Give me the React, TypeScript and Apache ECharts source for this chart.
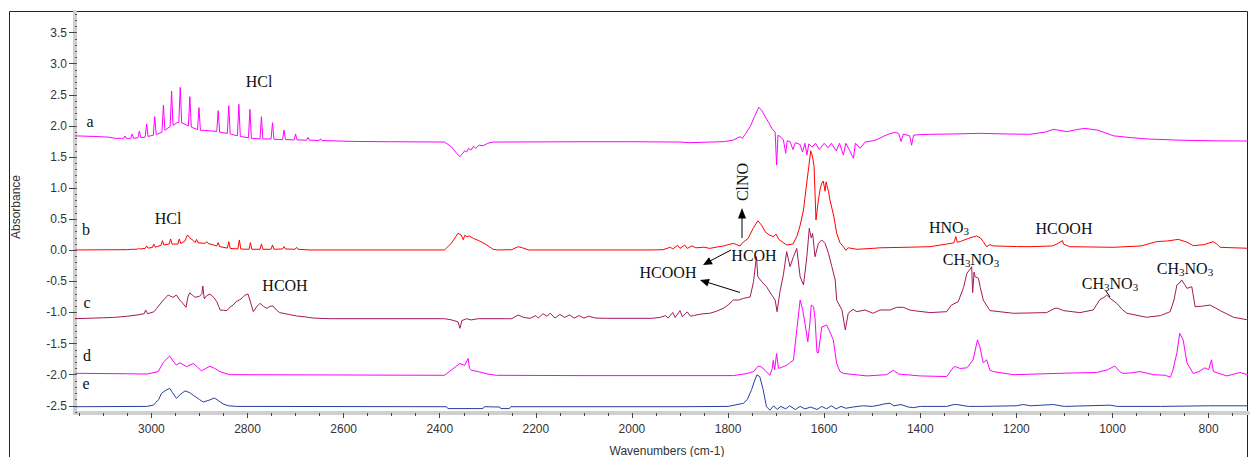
import React, { useEffect, useRef } from 'react';
import * as echarts from 'echarts';

type P = [number, number];

// trace a (top, magenta)
const traceA: P[] = [
  [3159, 1.84], [3120, 1.83], [3090, 1.82], [3075, 1.8], [3062, 1.8],
  [3058, 1.8], [3055, 1.838], [3052, 1.8],
  [3043, 1.8], [3040, 1.87], [3037, 1.8],
  [3028, 1.81], [3025, 1.918], [3022, 1.81],
  [3013, 1.82], [3010, 2.03], [3007, 1.83],
  [2996, 1.85], [2993, 2.148], [2990, 1.86],
  [2978, 1.9], [2975, 2.336], [2972, 1.93],
  [2961, 1.99], [2958, 2.561], [2955, 2.01],
  [2947, 2.05], [2943, 2.058], [2940, 2.62], [2937, 2.05],
  [2923, 2.0], [2920, 2.47], [2917, 1.98],
  [2904, 1.94], [2901, 2.293], [2898, 1.93],
  [2882, 1.924],
  [2864, 1.91], [2861, 2.245], [2858, 1.9],
  [2842, 1.88], [2839, 2.325], [2836, 1.87],
  [2821, 1.84], [2818, 2.347], [2815, 1.83],
  [2798, 1.81], [2795, 2.267], [2792, 1.8],
  [2774, 1.79], [2771, 2.148], [2768, 1.79],
  [2751, 1.79], [2748, 2.052], [2745, 1.785],
  [2727, 1.78], [2724, 1.934], [2721, 1.78],
  [2703, 1.775], [2700, 1.87], [2697, 1.775],
  [2677, 1.77], [2674, 1.816], [2671, 1.77],
  [2651, 1.765], [2648, 1.794], [2645, 1.765],
  [2580, 1.75], [2500, 1.745], [2390, 1.74], [2375, 1.66], [2365, 1.56],
  [2358, 1.505], [2352, 1.56], [2348, 1.6], [2344, 1.58], [2340, 1.64],
  [2335, 1.61], [2330, 1.67], [2325, 1.64], [2318, 1.69], [2310, 1.68],
  [2300, 1.72], [2289, 1.74], [2100, 1.745], [2000, 1.745], [1900, 1.74],
  [1880, 1.73], [1810, 1.746], [1790, 1.77], [1775, 1.826], [1770, 1.8],
  [1765, 1.86], [1754, 1.987], [1745, 2.15], [1736, 2.3], [1730, 2.25],
  [1723, 2.15], [1715, 2.05], [1709, 1.96], [1702, 1.9], [1699, 1.37],
  [1696, 1.85], [1692, 1.83], [1685, 1.78], [1680, 1.56], [1677, 1.76],
  [1671, 1.746], [1665, 1.62], [1660, 1.73], [1650, 1.7], [1645, 1.58],
  [1640, 1.72], [1636, 1.53], [1632, 1.71], [1625, 1.66], [1618, 1.72],
  [1610, 1.62], [1600, 1.72], [1592, 1.65], [1585, 1.72], [1575, 1.6],
  [1568, 1.72], [1560, 1.53], [1555, 1.72], [1548, 1.62], [1539, 1.48],
  [1535, 1.72], [1525, 1.64], [1515, 1.74], [1500, 1.76], [1490, 1.78],
  [1477, 1.83], [1465, 1.87], [1453, 1.897], [1445, 1.88], [1440, 1.75],
  [1435, 1.87], [1422, 1.84], [1418, 1.69], [1414, 1.85], [1400, 1.86],
  [1380, 1.865], [1330, 1.87], [1276, 1.88], [1220, 1.87], [1172, 1.865],
  [1140, 1.9], [1123, 1.945], [1095, 1.907], [1075, 1.94], [1057, 1.96],
  [1030, 1.93], [998, 1.84], [960, 1.81], [929, 1.79], [860, 1.77],
  [790, 1.76], [718, 1.757],
];

// trace b (red)
const traceB: P[] = [
  [3159, 0.005], [3050, 0.01], [3040, 0.016],
  [3030, 0.016], [3027, 0.032], [3024, 0.02],
  [3013, 0.03], [3010, 0.069], [3007, 0.035],
  [2998, 0.045], [2995, 0.1], [2992, 0.05],
  [2980, 0.08], [2977, 0.155], [2974, 0.085],
  [2963, 0.1], [2960, 0.182], [2957, 0.1],
  [2945, 0.1], [2942, 0.182], [2939, 0.11],
  [2930, 0.15], [2925, 0.246], [2920, 0.2], [2912, 0.15],
  [2909, 0.125], [2906, 0.176], [2903, 0.12],
  [2888, 0.112], [2885, 0.139], [2882, 0.11],
  [2864, 0.07], [2861, 0.123], [2858, 0.06],
  [2842, 0.035], [2839, 0.139], [2836, 0.03],
  [2820, 0.021], [2817, 0.166], [2814, 0.02],
  [2797, 0.016], [2794, 0.123], [2791, 0.016],
  [2774, 0.016], [2771, 0.1], [2768, 0.016],
  [2751, 0.016], [2748, 0.085], [2745, 0.016],
  [2727, 0.021], [2724, 0.059], [2721, 0.021],
  [2701, 0.016], [2698, 0.048], [2695, 0.016],
  [2670, 0.005], [2390, 0.005], [2375, 0.12], [2362, 0.273], [2356, 0.25],
  [2351, 0.17], [2348, 0.24], [2343, 0.22], [2338, 0.23], [2330, 0.19],
  [2320, 0.16], [2310, 0.12], [2302, 0.085], [2289, 0.016], [2280, 0.005],
  [2250, 0.01], [2237, 0.058], [2228, 0.04], [2215, 0.005], [1960, 0.005],
  [1935, 0.01], [1920, 0.05], [1915, 0.02], [1905, 0.08], [1900, 0.03],
  [1890, 0.085], [1885, 0.03], [1875, 0.07], [1867, 0.04], [1850, 0.05],
  [1838, 0.03], [1825, 0.05], [1810, 0.069], [1800, 0.09], [1789, 0.112],
  [1782, 0.09], [1775, 0.069], [1770, 0.12], [1758, 0.193], [1748, 0.35],
  [1738, 0.476], [1730, 0.4], [1723, 0.3], [1715, 0.25], [1706, 0.219],
  [1700, 0.26], [1695, 0.18], [1688, 0.14], [1678, 0.085], [1665, 0.1],
  [1657, 0.22], [1650, 0.4], [1643, 0.648], [1636, 1.1], [1632, 1.344],
  [1628, 1.6], [1624, 1.5], [1621, 1.344], [1617, 0.487], [1612, 0.81],
  [1608, 1.0], [1605, 1.077], [1602, 1.114], [1598, 0.95], [1596, 1.1],
  [1594, 1.034], [1591, 0.95], [1588, 0.81], [1580, 0.55], [1574, 0.273],
  [1567, 0.12], [1560, 0.058], [1555, 0.0], [1550, 0.04], [1532, 0.016],
  [1500, 0.03], [1484, 0.04], [1420, 0.05], [1380, 0.058], [1345, 0.1],
  [1330, 0.12], [1326, 0.22], [1323, 0.13], [1317, 0.14], [1300, 0.19],
  [1283, 0.23], [1275, 0.2], [1269, 0.14], [1262, 0.058], [1255, 0.09],
  [1248, 0.07], [1200, 0.06], [1172, 0.058], [1125, 0.07], [1116, 0.1],
  [1104, 0.155], [1102, 0.1], [1089, 0.058], [998, 0.048], [940, 0.07],
  [908, 0.14], [885, 0.15], [863, 0.176], [845, 0.13], [832, 0.075],
  [810, 0.09], [790, 0.14], [783, 0.1], [776, 0.048], [718, 0.032],
];

// trace c (dark magenta)
const traceC: P[] = [
  [3159, -1.1], [3120, -1.09], [3100, -1.085], [3079, -1.08], [3050, -1.06],
  [3030, -1.04], [3015, -1.02], [3012, -0.96], [3008, -1.02], [2995, -0.99],
  [2989, -0.933], [2975, -0.8], [2965, -0.719], [2960, -0.74], [2955, -0.756],
  [2948, -0.72], [2941, -0.8], [2935, -0.85], [2928, -0.917], [2924, -0.75],
  [2920, -0.682], [2915, -0.72], [2909, -0.756], [2900, -0.74], [2895, -0.7],
  [2893, -0.574], [2890, -0.78], [2885, -0.73], [2878, -0.703], [2870, -0.76],
  [2864, -0.826], [2860, -0.9], [2857, -0.96], [2850, -0.965], [2843, -0.97],
  [2836, -0.91], [2830, -0.88], [2823, -0.82], [2817, -0.8], [2810, -0.76],
  [2805, -0.72], [2799, -0.703], [2795, -0.8], [2788, -0.986], [2780, -0.9],
  [2774, -0.853], [2767, -0.9], [2760, -0.933], [2753, -0.9], [2747, -0.895],
  [2740, -0.96], [2733, -1.002], [2715, -1.03], [2698, -1.056], [2680, -1.07],
  [2663, -1.09], [2628, -1.1], [2390, -1.1], [2375, -1.12], [2362, -1.15],
  [2358, -1.254], [2354, -1.13], [2344, -1.1], [2335, -1.12], [2320, -1.1],
  [2250, -1.1], [2237, -1.04], [2225, -1.08], [2212, -1.094], [2200, -1.05],
  [2195, -1.09], [2185, -1.02], [2177, -1.06], [2170, -1.013], [2160, -1.09],
  [2150, -1.03], [2140, -1.08], [2130, -1.04], [2120, -1.09], [2110, -1.05],
  [2100, -1.09], [2090, -1.06], [2075, -1.09], [2053, -1.094], [1960, -1.094],
  [1942, -1.08], [1930, -1.05], [1925, -1.09], [1915, -1.0], [1910, -1.08],
  [1900, -0.97], [1895, -1.07], [1885, -0.99], [1878, -1.06], [1872, -1.05],
  [1860, -1.03], [1850, -1.02], [1838, -1.013], [1824, -0.98], [1810, -0.933],
  [1800, -0.88], [1789, -0.8], [1778, -0.8], [1768, -0.773], [1760, -0.76],
  [1754, -0.75], [1747, -0.505], [1741, -0.103], [1738, -0.424], [1730, -0.505],
  [1720, -0.585], [1709, -0.72], [1702, -0.8], [1698, -0.987], [1692, -0.665],
  [1685, -0.4], [1678, -0.022], [1671, -0.263], [1664, -0.103], [1657, 0.03],
  [1650, -0.424], [1643, -0.558], [1636, -0.103], [1631, 0.353], [1627, 0.2],
  [1624, 0.27], [1619, -0.103], [1612, 0.112], [1605, 0.166], [1598, 0.112],
  [1591, -0.05], [1584, -0.263], [1577, -0.477], [1574, -0.8], [1563, -0.96],
  [1556, -1.28], [1550, -1.013], [1540, -0.95], [1532, -0.987], [1515, -0.96],
  [1498, -1.013], [1484, -0.96], [1463, -0.96], [1449, -0.917], [1435, -0.917],
  [1422, -0.96], [1414, -0.97], [1380, -1.002], [1345, -0.987], [1335, -0.88],
  [1321, -0.826], [1310, -0.6], [1303, -0.37], [1296, -0.3], [1293, -0.263],
  [1291, -0.68], [1288, -0.35], [1286, -0.424], [1279, -0.451], [1275, -0.6],
  [1269, -0.8], [1255, -0.97], [1206, -1.013], [1137, -1.002], [1120, -0.933],
  [1115, -0.93], [1102, -0.97], [1068, -1.002], [1040, -0.96], [1026, -0.79],
  [1018, -0.76], [1012, -0.72], [1005, -0.773], [991, -0.853], [980, -0.95],
  [970, -1.013], [929, -1.077], [900, -1.05], [880, -0.987], [872, -0.8],
  [866, -0.558], [860, -0.52], [856, -0.477], [850, -0.55], [845, -0.612],
  [835, -0.585], [828, -0.907], [815, -0.9], [797, -0.88], [785, -0.93],
  [776, -0.97], [748, -1.077], [718, -1.12],
];

// trace d (magenta)
const traceD: P[] = [
  [3159, -1.978], [3050, -1.985], [3010, -1.99], [2986, -1.952], [2975, -1.8],
  [2962, -1.7], [2955, -1.78], [2948, -1.845], [2941, -1.81], [2934, -1.84],
  [2927, -1.87], [2913, -1.82], [2905, -1.87], [2896, -1.94], [2887, -1.9],
  [2878, -1.865], [2868, -1.9], [2857, -1.952], [2837, -2.0], [2600, -2.005],
  [2390, -2.01], [2375, -1.92], [2358, -1.82], [2348, -1.85], [2341, -1.74],
  [2338, -1.9], [2334, -1.93], [2320, -1.95], [2300, -1.99], [2282, -2.01],
  [2100, -2.015], [1900, -2.015], [1789, -2.015], [1760, -1.98], [1747, -1.95],
  [1737, -1.86], [1730, -1.88], [1723, -1.93], [1713, -2.01], [1708, -1.9],
  [1706, -1.77], [1703, -1.92], [1699, -1.66], [1695, -1.9], [1688, -1.88],
  [1678, -1.85], [1670, -1.8], [1664, -1.77], [1657, -1.28], [1650, -0.8],
  [1645, -0.95], [1641, -1.12], [1634, -1.47], [1630, -1.2], [1627, -0.88],
  [1622, -0.91], [1619, -1.1], [1615, -1.64], [1612, -1.65], [1605, -1.23],
  [1600, -1.22], [1595, -1.2], [1590, -1.28], [1581, -1.44], [1574, -1.82],
  [1567, -1.95], [1560, -1.98], [1511, -2.02], [1470, -2.0], [1456, -1.93],
  [1445, -1.99], [1400, -2.02], [1345, -2.03], [1331, -1.88], [1327, -1.87],
  [1317, -1.9], [1303, -1.89], [1290, -1.76], [1281, -1.44], [1276, -1.55],
  [1269, -1.81], [1262, -1.76], [1255, -1.93], [1248, -1.95], [1206, -2.0],
  [1095, -1.975], [1033, -1.965], [1010, -1.92], [995, -1.86], [985, -1.95],
  [978, -1.98], [960, -1.97], [943, -1.95], [915, -2.0], [890, -2.01],
  [880, -2.04], [875, -1.95], [866, -1.65], [860, -1.335], [853, -1.44],
  [845, -1.81], [832, -1.98], [820, -1.95], [808, -1.89], [800, -1.92],
  [794, -1.76], [790, -1.95], [762, -2.02], [735, -1.965], [718, -2.0],
];

// trace e (blue)
const traceE: P[] = [
  [3159, -2.515], [3010, -2.51], [2996, -2.49], [2985, -2.4], [2979, -2.3],
  [2970, -2.25], [2962, -2.22], [2956, -2.29], [2948, -2.38], [2940, -2.32],
  [2930, -2.26], [2920, -2.29], [2913, -2.33], [2900, -2.4], [2892, -2.44],
  [2880, -2.41], [2869, -2.375], [2860, -2.42], [2851, -2.47], [2840, -2.5],
  [2823, -2.51], [2386, -2.515], [2383, -2.545], [2310, -2.545], [2307, -2.515],
  [2275, -2.52], [2273, -2.545], [2255, -2.545], [2252, -2.515], [1900, -2.515],
  [1800, -2.51], [1768, -2.46], [1760, -2.4], [1751, -2.24], [1745, -2.1],
  [1740, -2.005], [1734, -2.03], [1727, -2.24], [1720, -2.515], [1713, -2.57],
  [1705, -2.5], [1698, -2.56], [1690, -2.51], [1680, -2.55], [1672, -2.5],
  [1660, -2.56], [1650, -2.51], [1640, -2.55], [1628, -2.52], [1615, -2.56],
  [1605, -2.51], [1595, -2.55], [1585, -2.5], [1575, -2.55], [1565, -2.51],
  [1555, -2.54], [1540, -2.52], [1520, -2.5], [1500, -2.51], [1484, -2.487],
  [1475, -2.47], [1463, -2.46], [1455, -2.5], [1440, -2.48], [1425, -2.52],
  [1414, -2.53], [1400, -2.51], [1345, -2.51], [1330, -2.48], [1324, -2.48],
  [1300, -2.51], [1276, -2.51], [1200, -2.5], [1186, -2.48], [1170, -2.5],
  [1123, -2.48], [1100, -2.51], [1005, -2.49], [990, -2.51], [900, -2.51],
  [800, -2.5], [718, -2.5],
];

const xMajorTicks = [3000, 2800, 2600, 2400, 2200, 2000, 1800, 1600, 1400, 1200, 1000, 800];
const yMajorTicks = [-2.5, -2.0, -1.5, -1.0, -0.5, 0.0, 0.5, 1.0, 1.5, 2.0, 2.5, 3.0, 3.5];
const traceLetters = ['a', 'b', 'c', 'd', 'e'];

const X_MIN = 718;
const X_MAX = 3159;
const Y_MIN = -2.616;
const Y_MAX = 3.831;

const SERIF = "'Liberation Serif', 'Times New Roman', serif";
const SANS = "'Liberation Sans', Arial, sans-serif";

function minorX(): number[] {
  const out: number[] = [];
  for (let v = 750; v <= 3150; v += 50) out.push(v);
  return out;
}
function minorY(): number[] {
  const out: number[] = [];
  for (let i = -26; i <= 38; i++) out.push(i / 10);
  return out;
}

const sub = { fontSize: 11, fontFamily: SERIF, lineHeight: 8, verticalAlign: 'bottom' as const };

function label(x: number, y: number, text: string, rotation = 0): any {
  return {
    type: 'text',
    x,
    y,
    rotation,
    z: 100,
    style: {
      text,
      fontFamily: SERIF,
      fontSize: 16,
      lineHeight: 18,
      fill: '#111',
      align: 'center',
      verticalAlign: 'middle',
      rich: { s: sub },
    },
  };
}

function arrowHead(points: number[][]): any {
  return { type: 'polygon', z: 100, shape: { points }, style: { fill: '#000' } };
}
function seg(x1: number, y1: number, x2: number, y2: number): any {
  return { type: 'line', z: 100, shape: { x1, y1, x2, y2 }, style: { stroke: '#000', lineWidth: 1 } };
}

export default function App() {
  const ref = useRef<HTMLDivElement>(null);
  useEffect(() => {
    const chart = echarts.init(ref.current!, null, { renderer: 'svg' });
    const mk = (name: string, data: P[], color: string) => ({
      name,
      type: 'line',
      data,
      showSymbol: false,
      symbol: 'none',
      lineStyle: { color, width: 1 },
      itemStyle: { color },
      silent: true,
    });
    const letterPos = [
      [90, 121], [86, 229], [87, 302], [87, 355], [86, 383],
    ];
    const option: any = {
      animation: false,
      backgroundColor: '#fff',
      grid: { left: 75, right: 2, top: 12, bottom: 44, containLabel: false },
      xAxis: [
        {
          type: 'value', inverse: true, min: X_MIN, max: X_MAX, position: 'bottom',
          axisLine: { show: true, onZero: false, lineStyle: { color: '#cfcfcf', width: 4 } },
          axisTick: { show: true, customValues: xMajorTicks, length: 5, lineStyle: { color: '#444', width: 1 } },
          axisLabel: {
            show: true, customValues: xMajorTicks, margin: 10, color: '#333', fontSize: 12, fontFamily: SANS,
            formatter: (v: number) => String(v),
          },
          splitLine: { show: false },
        },
        {
          type: 'value', inverse: true, min: X_MIN, max: X_MAX, position: 'bottom',
          axisLine: { show: false, onZero: false },
          axisTick: { show: true, customValues: minorX(), length: 3, lineStyle: { color: '#444', width: 1 } },
          axisLabel: { show: false },
          splitLine: { show: false },
        },
      ],
      yAxis: [
        {
          type: 'value', min: Y_MIN, max: Y_MAX, position: 'left',
          axisLine: { show: true, onZero: false, lineStyle: { color: '#cfcfcf', width: 4 } },
          axisTick: { show: true, customValues: yMajorTicks, length: 6, lineStyle: { color: '#444', width: 1 } },
          axisLabel: {
            show: true, customValues: yMajorTicks, margin: 8, color: '#333', fontSize: 12, fontFamily: SANS,
            formatter: (v: number) => v.toFixed(1),
          },
          splitLine: { show: false },
        },
        {
          type: 'value', min: Y_MIN, max: Y_MAX, position: 'left',
          axisLine: { show: false, onZero: false },
          axisTick: { show: true, inside: true, customValues: minorY(), length: 2, lineStyle: { color: '#555', width: 1 } },
          axisLabel: { show: false },
          splitLine: { show: false },
        },
      ],
      series: [
        mk('a', traceA, '#ff00ff'),
        mk('b', traceB, '#ff0000'),
        mk('c', traceC, '#a3195b'),
        mk('d', traceD, '#ff00ff'),
        mk('e', traceE, '#23409e'),
      ],
      graphic: [
        { type: 'rect', z: 0, silent: true, shape: { x: 9.5, y: 11.5, width: 1238, height: 470 }, style: { fill: 'none', stroke: '#222', lineWidth: 1 } },
        ...traceLetters.map((l, i) => label(letterPos[i][0], letterPos[i][1], l)),
        {
          type: 'text', x: 16, y: 207, rotation: Math.PI / 2, z: 100,
          style: { text: 'Absorbance', fontFamily: SANS, fontSize: 12, fill: '#333', align: 'center', verticalAlign: 'middle' },
        },
        {
          type: 'text', x: 667, y: 451, z: 100,
          style: { text: 'Wavenumbers (cm-1)', fontFamily: SANS, fontSize: 12, fill: '#333', align: 'center', verticalAlign: 'middle' },
        },
        label(259, 81, 'HCl'),
        label(168, 218, 'HCl'),
        label(285, 285, 'HCOH'),
        label(742, 182, 'ClNO', Math.PI / 2),
        seg(742, 238, 742, 217),
        arrowHead([[742, 208], [738, 218.5], [746, 218.5]]),
        label(754, 255, 'HCOH'),
        seg(731, 250, 710, 261),
        arrowHead([[703, 265], [712.8, 264.3], [709.0, 257.3]]),
        label(668, 272, 'HCOOH'),
        seg(740, 292.5, 708, 282.5),
        arrowHead([[700, 280], [709.8, 279], [707.4, 286.6]]),
        label(949, 227, 'HNO{s|3}'),
        label(1064, 228, 'HCOOH'),
        label(971, 259, 'CH{s|3}NO{s|3}'),
        label(1110, 283, 'CH{s|3}NO{s|3}'),
        seg(1106, 291, 1110, 297),
        label(1185, 268, 'CH{s|3}NO{s|3}'),
      ],
    };
    chart.setOption(option);
    return () => chart.dispose();
  }, []);
  return (
    <div
      ref={ref}
      style={{ position: 'absolute', left: 0, top: 0, width: 1250, height: 457, background: '#fff' }}
    />
  );
}
